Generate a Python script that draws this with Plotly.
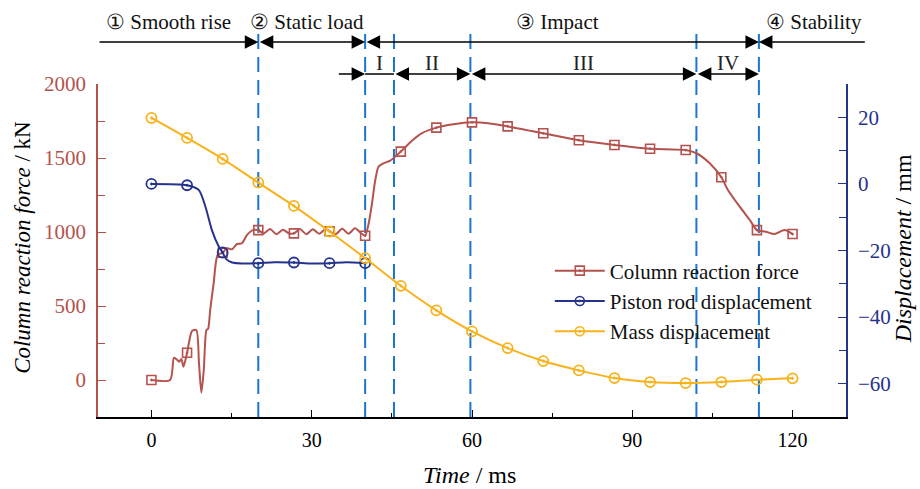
import plotly.graph_objects as go

# ---------------- data ----------------
marker_t = [0, 6.67, 13.33, 20, 26.67, 33.33, 40, 46.67, 53.33, 60, 66.67,
            73.33, 80, 86.67, 93.33, 100, 106.67, 113.33, 120]

force_t = [0, 3.5, 4.2, 4.7, 5.2, 5.6, 6.0, 6.67, 7.6, 8.4, 8.9, 9.35, 9.8, 10.3,
           10.6, 11.0, 11.65, 12.4, 13.33, 14.1, 15.1, 16.0, 16.9, 17.9, 19.0, 20,
           21.0, 22.2, 23.4, 24.6, 25.8, 26.67, 27.8, 29.0, 30.2, 31.4, 32.6, 33.33,
           34.5, 35.7, 36.9, 38.1, 39.3, 40, 40.6, 41.2, 41.9, 42.5, 43.4, 44.7, 45.6,
           46.67, 48.7, 50.5, 53.33, 56.5, 60, 63, 66.67, 73.33, 80, 86.67, 93.33,
           100, 102, 104.5, 106.67, 107.9, 110.1, 112, 113.33, 115, 116.6, 118.5, 120]
force_kn = [0, 0, 150, 140, 124, 142, 90, 184, 331, 338, 115, -86, 68, 338,
            345, 473, 655, 845, 860, 890, 883, 919, 923, 980, 1013, 1013,
            990, 1020, 985, 1015, 990, 991, 1020, 985, 1018, 988, 1020, 1005,
            985, 1022, 988, 1025, 990, 975, 1047, 1171, 1351, 1441, 1464, 1482, 1509,
            1543, 1615, 1665, 1705, 1728, 1741, 1735, 1714, 1667, 1620, 1588, 1563,
            1554, 1532, 1464, 1370, 1284, 1171, 1081, 1013, 1002, 986, 1013, 986]

piston_t = [0, 6.67, 8.85, 10.1, 11.3, 12.6, 13.33, 14.0, 15.1, 17.0, 20,
            23.0, 26.67, 30.0, 33.33, 36.5, 40]
piston_mm = [0, -0.4, -1.8, -6.8, -13.8, -18.8, -20.6, -22.6, -23.6, -23.9, -23.8,
             -23.5, -23.6, -23.9, -23.8, -23.5, -23.8]

mass_mm = [19.8, 13.8, 7.5, 0.4, -6.6, -14.3, -22.3, -30.6, -38.0, -44.3, -49.3,
           -53.2, -56.0, -58.3, -59.5, -59.8, -59.5, -58.8, -58.4]

phase_bounds = [20, 40, 45.4, 59.7, 102, 113.7]
stage_labels = ["① Smooth rise", "② Static load", "③ Impact", "④ Stability"]
sub_labels = ["I", "II", "III", "IV"]

x_ticks = [0, 30, 60, 90, 120]
force_ticks = [0, 500, 1000, 1500, 2000]
disp_ticks = [-60, -40, -20, 0, 20]

# ---------------- style ----------------
RED = '#b4524e'
BLUE = '#25338c'
YEL = '#f7b21c'
DASH = '#1c76cf'
FONT = 'Liberation Serif'

fig = go.Figure()

def in_markers(ts, vs):
    xs, ys = [], []
    for t, v in zip(ts, vs):
        if any(abs(t - m) < 1e-6 for m in marker_t):
            xs.append(t); ys.append(v)
    return xs, ys

# Column reaction force
fig.add_trace(go.Scatter(x=force_t, y=force_kn, mode='lines',
                         line=dict(color=RED, width=2, shape='spline', smoothing=0.7),
                         showlegend=False, hoverinfo='skip'))
fx, fy = in_markers(force_t, force_kn)
fig.add_trace(go.Scatter(x=fx, y=fy, mode='markers', showlegend=False,
                         marker=dict(symbol='square-open-dot', size=9, color=RED,
                                     line=dict(width=1.6, color=RED))))
# Piston rod displacement
fig.add_trace(go.Scatter(x=piston_t, y=piston_mm, mode='lines', yaxis='y2',
                         line=dict(color=BLUE, width=2, shape='spline', smoothing=0.7),
                         showlegend=False, hoverinfo='skip'))
px_, py_ = in_markers(piston_t, piston_mm)
fig.add_trace(go.Scatter(x=px_, y=py_, mode='markers', yaxis='y2', showlegend=False,
                         marker=dict(symbol='circle-open-dot', size=10, color=BLUE,
                                     line=dict(width=1.8, color=BLUE))))
# Mass displacement
fig.add_trace(go.Scatter(x=marker_t, y=mass_mm, mode='lines+markers', yaxis='y2',
                         line=dict(color=YEL, width=2, shape='spline', smoothing=0.6),
                         marker=dict(symbol='circle-open-dot', size=10, color=YEL,
                                     line=dict(width=1.8, color=YEL)),
                         showlegend=False))

# legend entries
for name, col, sym in [("Column reaction force", RED, 'square-open-dot'),
                       ("Piston rod displacement", BLUE, 'circle-open-dot'),
                       ("Mass displacement", YEL, 'circle-open-dot')]:
    fig.add_trace(go.Scatter(x=[None], y=[None], mode='lines+markers', name=name,
                             line=dict(color=col, width=2),
                             marker=dict(symbol=sym, size=9, color=col,
                                         line=dict(width=1.6, color=col))))

# dashed phase boundaries
for b in phase_bounds:
    fig.add_shape(type='line', xref='x', yref='paper', x0=b, x1=b, y0=0, y1=1.156,
                  line=dict(color=DASH, width=2, dash='15px,8px'), layer='below')

ROW1, ROW2 = 1.126, 1.030
LAB1, LAB2 = 1.186, 1.063

def arrow(x0, x1, yp, both):
    fig.add_annotation(x=x1, y=yp, xref='x', yref='paper', ax=x0, ay=0,
                       axref='x', ayref='pixel', text='', showarrow=True,
                       arrowhead=2, arrowsize=1.8, arrowwidth=1.5, arrowcolor='black',
                       startarrowhead=2, startarrowsize=1.8,
                       arrowside='end+start' if both else 'end')

b = phase_bounds
# top row
arrow(-10, b[0], ROW1, False)
arrow(b[0], b[1], ROW1, True)
arrow(b[1], b[5], ROW1, True)
arrow(133.8, b[5], ROW1, False)
# second row
arrow(34.8, b[1], ROW2, False)
fig.add_shape(type='line', xref='x', yref='paper', x0=b[1], x1=b[2], y0=ROW2, y1=ROW2,
              line=dict(color='black', width=1.5))
arrow(b[2], b[3], ROW2, True)
arrow(b[3], b[4], ROW2, True)
arrow(b[4], b[5], ROW2, True)

stage_x = [3.2, 29.2, 76, 124]
for s, xx in zip(stage_labels, stage_x):
    fig.add_annotation(x=xx, y=LAB1, xref='x', yref='paper', text=s, showarrow=False,
                       xanchor='center', yanchor='middle',
                       font=dict(family=FONT, size=21, color='#111'))
sub_x = [(b[1] + b[2]) / 2, (b[2] + b[3]) / 2, (b[3] + b[4]) / 2, (b[4] + b[5]) / 2]
for s, xx in zip(sub_labels, sub_x):
    fig.add_annotation(x=xx, y=LAB2, xref='x', yref='paper', text=s, showarrow=False,
                       xanchor='center', yanchor='middle',
                       font=dict(family=FONT, size=21, color='#222'))

# axis titles
fig.add_annotation(x=-0.102, y=0.51, xref='paper', yref='paper', textangle=-90,
                   xanchor='center', yanchor='middle',
                   text='<i>Column reaction force</i> / kN', showarrow=False,
                   font=dict(family=FONT, size=23, color='black'))
fig.add_annotation(x=1.076, y=0.506, xref='paper', yref='paper', textangle=-90,
                   xanchor='center', yanchor='middle',
                   text='<i>Displacement</i> / mm', showarrow=False,
                   font=dict(family=FONT, size=24, color='black'))
fig.add_annotation(x=0.497, y=-0.174, xref='paper', yref='paper',
                   xanchor='center', yanchor='middle',
                   text='<i>Time</i> / ms', showarrow=False,
                   font=dict(family=FONT, size=24, color='black'))

fig.update_layout(
    width=920, height=489,
    margin=dict(l=98, r=74, t=84, b=72),
    paper_bgcolor='white', plot_bgcolor='white',
    font=dict(family=FONT),
    showlegend=True,
    legend=dict(x=0.604, y=0.50, xanchor='left', yanchor='top',
                bgcolor='rgba(0,0,0,0)', font=dict(family=FONT, size=21, color='#111'),
                tracegroupgap=0, itemwidth=50),
    xaxis=dict(range=[-10, 130], tickvals=x_ticks, ticks='inside', ticklen=7,
               tickwidth=1.3, tickcolor='black', showline=True, linecolor='black',
               linewidth=1.5, showgrid=False, zeroline=False,
               tickfont=dict(family=FONT, size=20, color='black'),
               ticklabelstandoff=4,
               minor=dict(dtick=15, tick0=0, ticks='inside', ticklen=4, tickcolor='black',
                          tickwidth=1.3, showgrid=False)),
    yaxis=dict(range=[-250, 2000], tickvals=force_ticks, ticks='inside', ticklen=8,
               tickwidth=1.3, tickcolor=RED, showline=True, linecolor=RED, linewidth=1.5,
               showgrid=False, zeroline=False,
               tickfont=dict(family=FONT, size=21, color=RED), ticklabelstandoff=6,
               minor=dict(dtick=250, tick0=0, ticks='inside', ticklen=7, tickcolor=RED,
                          tickwidth=1.3, showgrid=False)),
    yaxis2=dict(range=[-70, 30], tickvals=disp_ticks, overlaying='y', side='right',
                ticks='inside', ticklen=8, tickwidth=1.3, tickcolor=BLUE, showline=True,
                linecolor=BLUE, linewidth=1.5, showgrid=False, zeroline=False,
                tickfont=dict(family=FONT, size=21, color=BLUE), ticklabelstandoff=6,
                minor=dict(dtick=10, tick0=0, ticks='inside', ticklen=7, tickcolor=BLUE,
                           tickwidth=1.3, showgrid=False)),
)

fig.write_html("out.html")
